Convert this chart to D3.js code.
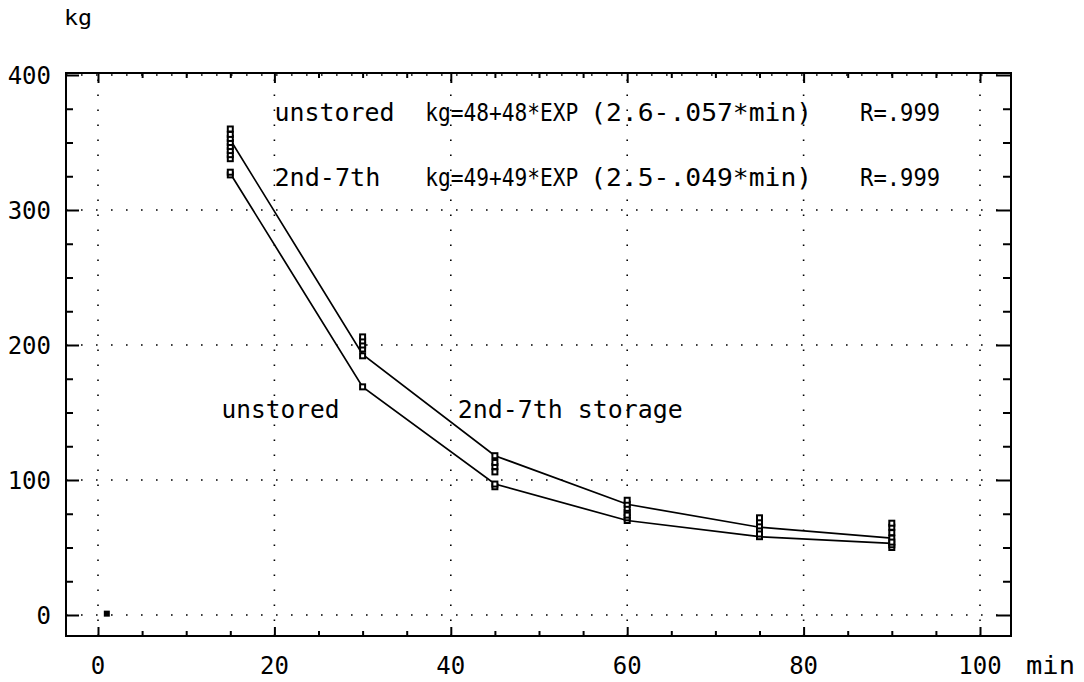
<!DOCTYPE html>
<html>
<head>
<meta charset="utf-8">
<script src="https://cdn.jsdelivr.net/npm/d3@7"></script>
<style>
  html, body { margin: 0; padding: 0; background: #fff; }
  svg { display: block; }
  text { font-family: "DejaVu Sans Mono", monospace; fill: #000; }
</style>
</head>
<body>
<svg id="chart" width="1084" height="682"></svg>
<script>
// Sampling times (min)
const times = [15, 30, 45, 60, 75, 90];

// Mean curves drawn as polylines
const unstoredMean = [327, 169, 97, 70, 58, 53];
const storedMean   = [352, 193, 118, 82, 65, 57];

// Individual observations at each time
const unstoredObs = [
  [326, 328], [169], [95, 97], [70, 72, 74], [58, 60], [50, 52, 54]
];
const storedObs = [
  [338, 341, 344, 347, 350, 353, 356, 360],
  [192, 197, 200, 203, 206],
  [106, 110, 113, 118],
  [76, 79, 82, 85],
  [63, 66, 69, 72],
  [57, 61, 65, 68]
];

// Start point
const startPoint = [1, 1];

// Axis ticks
const xTicks = [0, 20, 40, 60, 80, 100];
const yTicks = [0, 100, 200, 300, 400];

// Fit equations printed in the plot
const fitRows = [
  { y: 366, parts: ["unstored", "kg=48+48*EXP", "(2.6-.057*min)", "R=.999"] },
  { y: 318, parts: ["2nd-7th", "kg=49+49*EXP", "(2.5-.049*min)", "R=.999"] }
];

const svg = d3.select("#chart");

const x = d3.scaleLinear().domain([0, 100]).range([98, 980]);
const y = d3.scaleLinear().domain([0, 400]).range([615, 75]);

const xMin = x.invert(66), xMax = x.invert(1011);
const yMin = y.invert(636), yMax = y.invert(73);

const pLeft = x(xMin), pRight = x(xMax), pTop = y(yMax), pBottom = y(yMin);

// Dotted grid
const grid = svg.append("g")
  .attr("stroke", "#000").attr("stroke-width", 1.6)
  .attr("stroke-dasharray", "1.6,13.4");
grid.selectAll("line.v").data(xTicks).join("line").attr("class", "v")
  .attr("x1", d => x(d)).attr("x2", d => x(d))
  .attr("y1", pBottom).attr("y2", pTop);
grid.selectAll("line.h").data(yTicks).join("line").attr("class", "h")
  .attr("y1", d => y(d)).attr("y2", d => y(d))
  .attr("x1", pLeft).attr("x2", pRight);

// Inner ticks on all four sides
const minorX = d3.range(0, 101, 5).filter(v => v % 20 !== 0);
const minorY = d3.range(0, 401, 25).filter(v => v % 100 !== 0);

function tickAxis(axisFn, scale, pos, vals, size) {
  const g = svg.append("g").attr("transform", pos)
    .call(axisFn(scale).tickValues(vals).tickSize(size).tickFormat(""));
  g.select(".domain").remove();
  g.selectAll(".tick line").attr("stroke", "#000").attr("stroke-width", 2);
  return g;
}
tickAxis(d3.axisBottom, x, `translate(0,${pBottom})`, xTicks, -9);
tickAxis(d3.axisBottom, x, `translate(0,${pBottom})`, minorX, -5);
tickAxis(d3.axisTop, x, `translate(0,${pTop})`, xTicks, -10);
tickAxis(d3.axisTop, x, `translate(0,${pTop})`, minorX, -5);
tickAxis(d3.axisLeft, y, `translate(${pLeft},0)`, yTicks, -13);
tickAxis(d3.axisLeft, y, `translate(${pLeft},0)`, minorY, -7);
tickAxis(d3.axisRight, y, `translate(${pRight},0)`, yTicks, -15);
tickAxis(d3.axisRight, y, `translate(${pRight},0)`, minorY, -8);

// Frame
svg.append("rect")
  .attr("x", pLeft).attr("y", pTop)
  .attr("width", pRight - pLeft).attr("height", pBottom - pTop)
  .attr("fill", "none").attr("stroke", "#000").attr("stroke-width", 2);

// Tick labels
svg.append("g").selectAll("text").data(xTicks).join("text")
  .attr("x", d => x(d)).attr("y", 674)
  .attr("text-anchor", "middle").attr("font-size", 24)
  .text(d => d);
svg.append("g").selectAll("text").data(yTicks).join("text")
  .attr("x", 51).attr("y", d => y(d) + 9)
  .attr("text-anchor", "end").attr("font-size", 24)
  .text(d => d);

// Axis titles
svg.append("text").attr("x", 64).attr("y", 25).attr("font-size", 21)
  .attr("textLength", 28).attr("lengthAdjust", "spacingAndGlyphs").text("kg");
svg.append("text").attr("x", 1026).attr("y", 674).attr("font-size", 24)
  .attr("textLength", 49).attr("lengthAdjust", "spacingAndGlyphs").text("min");

// Mean lines
const line = d3.line().x((d, i) => x(times[i])).y(d => y(d));
[unstoredMean, storedMean].forEach(s => {
  svg.append("path").datum(s).attr("d", line)
    .attr("fill", "none").attr("stroke", "#000").attr("stroke-width", 1.7);
});

// Observation markers (open squares)
function drawObs(obs) {
  const pts = obs.flatMap((vals, i) => vals.map(v => [times[i], v]));
  svg.append("g").selectAll("rect").data(pts).join("rect")
    .attr("x", d => x(d[0]) - 2.5).attr("y", d => y(d[1]) - 2.5)
    .attr("width", 5).attr("height", 5)
    .attr("fill", "#fff").attr("stroke", "#000").attr("stroke-width", 2);
}
drawObs(storedObs);
drawObs(unstoredObs);

svg.append("rect")
  .attr("x", x(startPoint[0]) - 3).attr("y", y(startPoint[1]) - 3)
  .attr("width", 6).attr("height", 6).attr("fill", "#000");

// Fit equations, each segment fitted to its column
const cols = [
  { at: 20, w: 120 },
  { at: 37.1, w: 153 },
  { at: 55.8, w: 222 },
  { at: 86.4, w: 80 }
];
fitRows.forEach(r => {
  r.parts.forEach((p, i) => {
    svg.append("text")
      .attr("x", x(cols[i].at)).attr("y", y(r.y))
      .attr("font-size", 24)
      .attr("textLength", p === "2nd-7th" ? 106 : cols[i].w)
      .attr("lengthAdjust", "spacingAndGlyphs")
      .text(p);
  });
});

// Curve labels
svg.append("text").attr("x", x(14)).attr("y", y(146))
  .attr("font-size", 24).attr("textLength", 118).attr("lengthAdjust", "spacingAndGlyphs")
  .text("unstored");
svg.append("text").attr("x", x(40.8)).attr("y", y(146))
  .attr("font-size", 24).attr("textLength", 225).attr("lengthAdjust", "spacingAndGlyphs")
  .text("2nd-7th storage");
</script>
</body>
</html>
